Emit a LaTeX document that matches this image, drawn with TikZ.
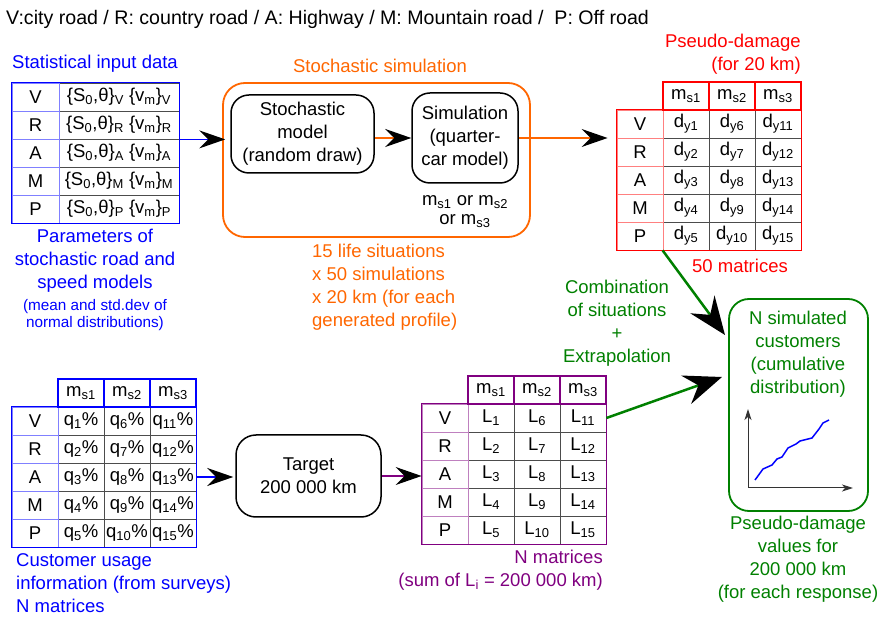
\documentclass[tikz,border=0pt]{standalone}
\usepackage{fontspec}
\setmainfont{Liberation Sans}
\usetikzlibrary{arrows.meta}
\definecolor{simorange}{RGB}{255,102,0}
\definecolor{simgreen}{RGB}{0,128,0}
\definecolor{simpurple}{RGB}{128,0,128}
\newcommand{\sbs}[1]{\textsubscript{#1}}
\tikzset{
  bigtip/.tip={Stealth[color=black,length=26pt,width=18pt,inset=9pt]},
  hugetip/.tip={Stealth[color=black,length=38pt,width=30pt,inset=13pt]},
  smalltip/.tip={Stealth[length=11pt,width=7pt,inset=3pt]},
  rbox/.style={draw, line width=1.5pt, rounded corners=18pt, align=center},
  cell/.style={draw=black!70, line width=0.8pt, minimum width=46pt, minimum height=28pt},
  small/.style={font=\fontsize{15.3}{17}\selectfont}
}
\begin{document}
\begin{tikzpicture}
            [x=1pt,y=-1pt,every node/.style={font=\fontsize{18.5}{23}\selectfont,inner sep=0pt,align=center}]
            \useasboundingbox (0,0) rectangle (879,617);
            \node[anchor=west,font=\fontsize{19.6}{23}\selectfont] (title) at (6,19)
                {V:city road / R: country road / A: Highway / M: Mountain road /\ \ P: Off road};

            % statistical input data
            \node[blue] (in-lbl) at (95,64) {Statistical input data};
            \foreach \r [count=\i] in {V,R,A,M,P} {
                \node[cell,minimum width=120pt] (in-\i-1) at (119,{69+28*\i})
                    {\{S\sbs{0},θ\}\sbs{\r} \{v\sbs{m}\}\sbs{\r}};
                \node[cell,minimum width=47pt,draw=blue!50] (in-\i-0) at (35.5,{69+28*\i}) {\r};
            }
            \draw[blue,line width=1.5pt] (in-1-0.north west) rectangle (in-5-1.south east);
            \node[blue] (par-lbl) at (95,261) {Parameters of\\stochastic road and\\speed models};
            \node[blue,small] (par-note) at (95,315) {(mean and std.dev of\\normal distributions)};

            % stochastic simulation
            \node[draw=simorange,line width=1.8pt,rounded corners=22pt,minimum width=307pt,minimum height=154pt] (stoch) at (376.5,160) {};
            \node[simorange] (stoch-lbl) at (380,66) {Stochastic simulation};
            \node[rbox,minimum width=143pt,minimum height=78pt] (sto) at (302.5,134) {Stochastic\\model\\(random draw)};
            \node[rbox,minimum width=106pt,minimum height=90pt] (sim) at (465,138) {Simulation\\(quarter-\\car model)};
            \node[font=\fontsize{18.5}{19}\selectfont] (sim-var) at (465,212) {m\sbs{s1} or m\sbs{s2}\\or m\sbs{s3}};
            \node[simorange,align=left,anchor=west] (stoch-note) at (312,287)
                {15 life situations\\x 50 simulations\\x 20 km (for each\\generated profile)};

            % pseudo-damage matrix
            \node[red,align=right,anchor=east] (d-lbl) at (801,54) {Pseudo-damage\\(for 20 km)};
            \foreach \r [count=\i] in {V,R,A,M,P} {
                \foreach \j in {1,2,3} {
                    \pgfmathtruncatemacro{\k}{\i+5*(\j-1)}
                    \node[cell] (d-\i-\j) at ({617+46*\j+23},{96+28*\i}) {d\sbs{y\k}};
                }
                \node[cell,draw=red!50] (d-\i-0) at (640,{96+28*\i}) {\r};
            }
            \foreach \j in {1,2,3}
                \node[cell,draw=red,line width=1.5pt] (d-0-\j) at ({617+46*\j+23},96) {m\sbs{s\j}};
            \draw[red,line width=1.5pt] (d-1-0.north west) rectangle (d-5-3.south east);
            \node[red] (d-note) at (740,266) {50 matrices};

            % customer usage matrix
            \foreach \r [count=\i] in {V,R,A,M,P} {
                \foreach \j in {1,2,3} {
                    \pgfmathtruncatemacro{\k}{\i+5*(\j-1)}
                    \node[cell] (q-\i-\j) at ({12+46*\j+23},{393+28*\i}) {q\sbs{\k}\%};
                }
                \node[cell,draw=blue!50] (q-\i-0) at (35,{393+28*\i}) {\r};
            }
            \foreach \j in {1,2,3}
                \node[cell,draw=blue,line width=1.5pt] (q-0-\j) at ({12+46*\j+23},393) {m\sbs{s\j}};
            \draw[blue,line width=1.5pt] (q-1-0.north west) rectangle (q-5-3.south east);
            \node[blue,align=left,anchor=west] (q-note) at (16,583)
                {Customer usage\\information (from surveys)\\N matrices};

            % target
            \node[rbox,rounded corners=20pt,minimum width=145pt,minimum height=82pt] (tgt) at (308.5,476) {Target\\200 000 km};

            % mileage matrix
            \foreach \r [count=\i] in {V,R,A,M,P} {
                \foreach \j in {1,2,3} {
                    \pgfmathtruncatemacro{\k}{\i+5*(\j-1)}
                    \node[cell] (L-\i-\j) at ({422+46*\j+23},{390+28*\i}) {L\sbs{\k}};
                }
                \node[cell,draw=simpurple!50] (L-\i-0) at (445,{390+28*\i}) {\r};
            }
            \foreach \j in {1,2,3}
                \node[cell,draw=simpurple,line width=1.5pt] (L-0-\j) at ({422+46*\j+23},390) {m\sbs{s\j}};
            \draw[simpurple,line width=1.5pt] (L-1-0.north west) rectangle (L-5-3.south east);
            \node[simpurple,align=right,anchor=east] (L-note) at (603,570)
                {N matrices\\(sum of L\sbs{i} = 200 000 km)};

            % result
            \node[draw=simgreen,line width=1.8pt,rounded corners=20pt,minimum width=139pt,minimum height=212pt] (res) at (798.5,405) {};
            \node[simgreen] (res-lbl) at (798,354) {N simulated\\customers\\(cumulative\\distribution)};
            \draw[black!80,line width=1pt,-{smalltip}] (748,488) -- (748,409);
            \draw[black!80,line width=1pt,-{smalltip}] (748,488) -- (853,488);
            \draw[blue,line width=1.5pt] (755,480) -- (763,469) -- (772,465) -- (777,459) -- (782,457)
                -- (788,448) -- (796,444) -- (800,441) -- (812,438) -- (819,429) -- (823,423) -- (829,420);
            \node[simgreen] (res-note) at (798,559) {Pseudo-damage\\values for\\200 000 km\\(for each response)};
            \node[simgreen] (comb-lbl) at (617,323) {Combination\\of situations\\+\\Extrapolation};
            \coordinate (res-in1) at (725,335);
            \coordinate (res-in2) at (722,377);

            % flows
            \draw[blue,line width=1.5pt,-{bigtip},shorten >=5pt] (in-2-1.south east) -- (in-2-1.south east -| sto.west);
            \draw[simorange,line width=1.5pt,-{bigtip}] (sto.east |- sim.west) -- (sim.west);
            \draw[simorange,line width=1.5pt,-{bigtip},shorten >=9pt] (sim.east) -- (sim.east -| d-1-0.west);
            \draw[blue,line width=1.5pt,-{bigtip},shorten >=2pt] (q-3-3.east) -- (q-3-3.east -| tgt.west);
            \draw[simpurple,line width=1.5pt,-{bigtip}] (tgt.east) -- (tgt.east -| L-3-0.west);
            \draw[simgreen,line width=2.5pt,-{hugetip}] (d-5-1.south west) -- (res-in1);
            \draw[simgreen,line width=2.5pt,-{hugetip}] (L-1-3.east) -- (res-in2);
        \end{tikzpicture}
\end{document}
